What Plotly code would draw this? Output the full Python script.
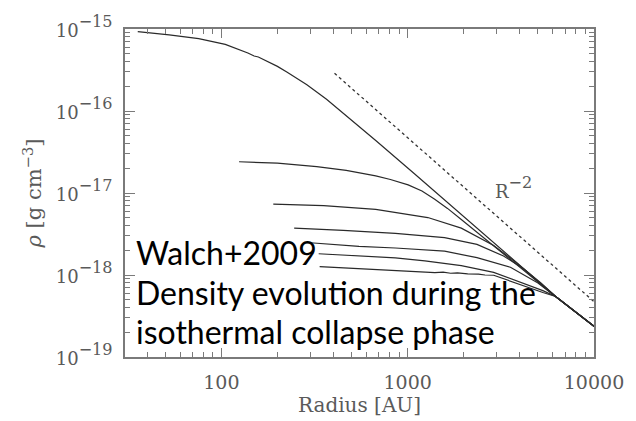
import plotly.graph_objects as go

# Radial density profiles (radius in AU, density in g cm^-3), one per snapshot
r1 = [35.6, 52.5, 75.6, 105, 138.8, 150, 158, 166, 177, 200, 225.7, 287.8, 366.9, 468, 674,
      1095, 1781, 2895, 4708, 6225, 10000]
rho1 = [9.30e-16, 8.50e-16, 7.63e-16, 6.49e-16, 5.09e-16, 4.68e-16, 4.55e-16, 4.30e-16, 3.99e-16,
        3.50e-16, 2.97e-16, 2.09e-16, 1.392e-16, 8.80e-17, 4.36e-17,
        1.693e-17, 6.51e-18, 2.515e-18, 9.72e-19, 5.48e-19, 2.373e-19]

r2 = [124.5, 200, 325, 468, 674, 808, 1006, 1193, 1397, 1636, 1940, 2660, 3693, 6225, 10000]
rho2 = [2.405e-17, 2.31e-17, 2.10e-17, 1.887e-17, 1.617e-17, 1.46e-17, 1.258e-17, 1.056e-17,
        8.39e-18, 6.49e-18, 4.76e-18, 2.662e-18, 1.47e-18, 5.48e-19, 2.373e-19]

r3 = [190, 354, 674, 1283, 1940, 2895, 3830, 5003, 6225, 10000]
rho3 = [7.33e-18, 7.0e-18, 6.32e-18, 5.02e-18, 3.73e-18, 2.294e-18, 1.411e-18, 8.45e-19, 5.48e-19, 2.373e-19]

r4 = [246, 451, 859, 1578, 2355, 3270, 4170, 5190, 6225, 10000]
rho4 = [3.73e-18, 3.51e-18, 3.21e-18, 2.85e-18, 2.36e-18, 1.705e-18, 1.20e-18, 8.0e-19, 5.48e-19, 2.373e-19]

r5 = [288, 548, 859, 1578, 2355, 3561, 5003, 6225, 10000]
rho5 = [2.49e-18, 2.23e-18, 2.133e-18, 1.95e-18, 1.628e-18, 1.243e-18, 8.0e-19, 5.48e-19, 2.373e-19]

r6 = [333, 859, 1237, 1940, 2895, 4170, 5316, 6225, 10000]
rho6 = [1.815e-18, 1.615e-18, 1.49e-18, 1.30e-18, 1.077e-18, 8.0e-19, 6.45e-19, 5.48e-19, 2.373e-19]

r7 = [337, 597, 891, 1237, 1400, 1550, 1700, 1850, 2100, 2400, 2600, 2895, 4324, 5316, 6225, 10000]
rho7 = [1.266e-18, 1.19e-18, 1.137e-18, 1.086e-18, 1.07e-18, 1.085e-18, 1.05e-18, 1.06e-18,
        1.03e-18, 1.025e-18, 1.0e-18, 9.93e-19, 7.18e-19, 6.11e-19, 5.48e-19, 2.373e-19]

# R^-2 reference slope
r_ref = [405, 10000]
rho_ref = [2.88e-16, 4.72e-19]

# Axis ticks
x_ticks = [100, 1000, 10000]
x_tick_text = ["100", "1000", "10000"]
y_exponents = [-19, -18, -17, -16, -15]

profiles = [(r1, rho1), (r2, rho2), (r3, rho3), (r4, rho4), (r5, rho5), (r6, rho6), (r7, rho7)]

serif = "DejaVu Serif"
axis_grey = "#7a7a7a"
label_grey = "#5a5a5a"
base_style = "font-size:18px"

fig = go.Figure()
for r, rho in profiles:
    fig.add_trace(go.Scatter(x=r, y=rho, mode="lines",
                             line=dict(color="#2a2a2a", width=1.2), showlegend=False))
fig.add_trace(go.Scatter(x=r_ref, y=rho_ref, mode="lines",
                         line=dict(color="#333333", width=1.3, dash="dot"), showlegend=False))

# Larger font for the whole label keeps the exponent big; the mantissa is set back to 18px
y_tickvals = [10.0 ** e for e in y_exponents]
y_ticktext = [f'<span style="{base_style}">10</span><sup>\u2212{-e}</sup>' for e in y_exponents]

x_minor = [m * 10 ** d for d in range(1, 4) for m in range(2, 10) if m * 10 ** d >= 30]
y_minor = [m * 10.0 ** e for e in range(-19, -15) for m in range(2, 10)]

fig.update_xaxes(
    type="log", range=[1.483, 4.0],
    tickmode="array", tickvals=x_ticks, ticktext=x_tick_text,
    ticks="inside", ticklen=9, tickwidth=1.2, tickcolor=axis_grey,
    minor=dict(tickmode="array", tickvals=x_minor, ticks="inside", ticklen=5,
               tickwidth=1.2, tickcolor=axis_grey, showgrid=False),
    showline=True, linecolor=axis_grey, linewidth=1.6, mirror="ticks",
    showgrid=False, zeroline=False,
    tickfont=dict(family=serif, size=19, color=label_grey),
    ticklabelstandoff=7,
    title=dict(text="Radius [AU]", font=dict(family=serif, size=20, color=label_grey), standoff=2),
)
fig.update_yaxes(
    type="log", range=[-19, -15],
    tickmode="array", tickvals=y_tickvals, ticktext=y_ticktext,
    ticks="inside", ticklen=10, tickwidth=1.2, tickcolor=axis_grey,
    minor=dict(tickmode="array", tickvals=y_minor, ticks="inside", ticklen=5,
               tickwidth=1.2, tickcolor=axis_grey, showgrid=False),
    showline=True, linecolor=axis_grey, linewidth=1.6, mirror="ticks",
    showgrid=False, zeroline=False,
    tickfont=dict(family=serif, size=23, color=label_grey),
    ticklabelstandoff=6,
    title=dict(text='<i>\u03c1</i> [g cm<sup>\u22123</sup>]',
               font=dict(family=serif, size=21, color=label_grey), standoff=8),
)

# Slope label
fig.add_annotation(x=3.567, y=-16.93, xref="x", yref="y",
                   text=f'<span style="{base_style}">R</span><sup>\u22122</sup>',
                   showarrow=False, font=dict(family=serif, size=23, color=label_grey))

# Caption text over the plot (positions in pixels, converted to paper fractions)
plot_h = 421 - 19 - 61
plot_w = 636 - 125 - 34
caption = ["Walch+2009", "Density evolution during the", "isothermal collapse phase"]
caption_y = [251, 293, 333]
for line, ypix in zip(caption, caption_y):
    fig.add_annotation(x=(134 - 125) / plot_w, y=(360 - ypix) / plot_h,
                       xref="paper", yref="paper",
                       text=line, showarrow=False, xanchor="left", yanchor="middle",
                       font=dict(family="Lato", size=32, color="black"))

fig.update_layout(
    width=636, height=421,
    margin=dict(l=125, r=34, t=19, b=61),
    paper_bgcolor="white", plot_bgcolor="white",
)

fig.write_html("out.html")
